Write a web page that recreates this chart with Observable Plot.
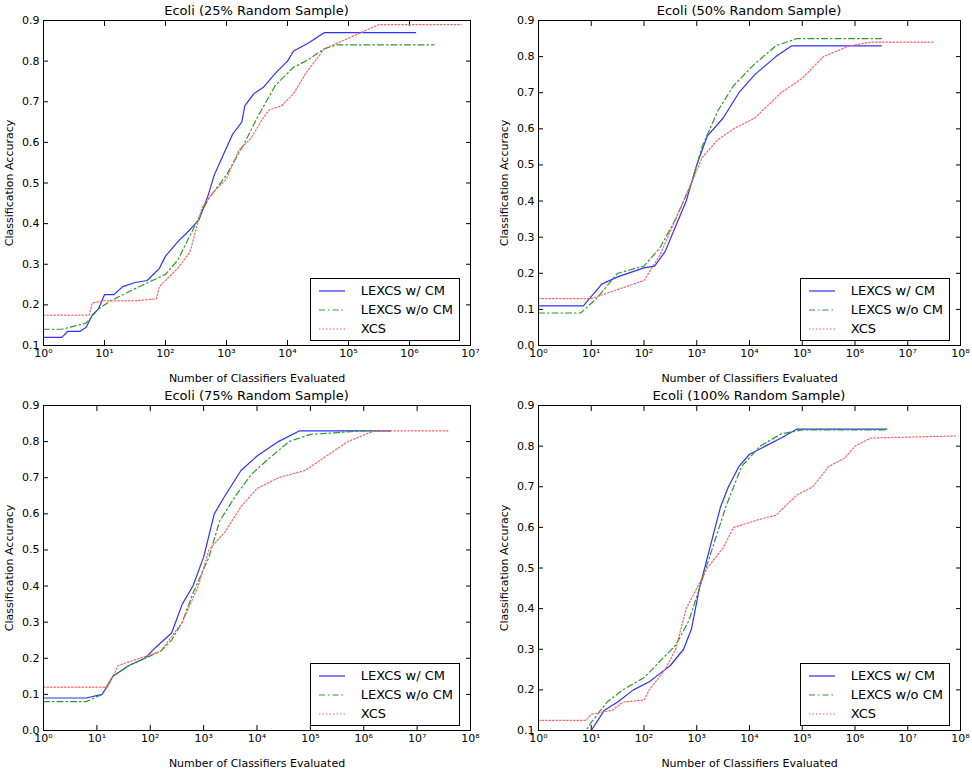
<!DOCTYPE html>
<html>
<head>
<meta charset="utf-8">
<script src="https://cdn.jsdelivr.net/npm/d3@7"></script>
<script src="https://cdn.jsdelivr.net/npm/@observablehq/plot@0.6"></script>
<style>
  body { margin: 0; background: #fff; font-family: "DejaVu Sans", sans-serif; }
  #grid { display: grid; grid-template-columns: 486px 486px; grid-template-rows: 385px 385px; width: 972px; }
  .panel { position: relative; }
  .panel svg { overflow: visible; }
  .title { position: absolute; top: 3px; width: 100%; font-size: 13px; }
  .legend { position: absolute; border: 1px solid #000; background: #fff; font-size: 13px; padding: 2px 6px; }
  .legend div { display: flex; align-items: center; height: 19px; }
  .legend svg { margin-right: 14px; }
</style>
</head>
<body>
<div id="grid"></div>
<script>
// exponents (log10 of classifiers evaluated) and accuracy
const titles = ["Ecoli (25% Random Sample)", "Ecoli (50% Random Sample)", "Ecoli (75% Random Sample)", "Ecoli (100% Random Sample)"]
const series = ["LEXCS w/ CM", "LEXCS w/o CM", "XCS"]

const p25cmX = [0,0.3,0.4,0.6,0.7,0.8,0.9,1.0,1.15,1.3,1.5,1.7,1.9,2.0,2.2,2.4,2.55,2.7,2.8,2.95,3.1,3.25,3.3,3.45,3.6,3.8,4.0,4.1,4.35,4.6,6.1]
const p25cmY = [0.12,0.12,0.135,0.135,0.145,0.175,0.19,0.225,0.225,0.245,0.255,0.26,0.29,0.32,0.355,0.385,0.41,0.47,0.52,0.57,0.62,0.65,0.69,0.72,0.735,0.77,0.8,0.825,0.845,0.87,0.87]
const p25noX = [0,0.3,0.7,0.9,1.1,1.5,2.0,2.2,2.5,2.7,3.0,3.3,3.5,3.8,4.1,4.3,4.6,4.8,6.4]
const p25noY = [0.14,0.14,0.155,0.19,0.21,0.24,0.275,0.31,0.4,0.46,0.52,0.6,0.66,0.74,0.785,0.8,0.83,0.84,0.84]
const p25xcsX = [0,0.75,0.8,1.0,1.5,1.85,1.9,2.0,2.2,2.4,2.6,2.8,3.0,3.2,3.4,3.6,3.7,3.9,4.1,4.3,4.6,4.9,5.2,5.5,6.85]
const p25xcsY = [0.175,0.175,0.205,0.21,0.21,0.215,0.245,0.26,0.29,0.33,0.44,0.48,0.51,0.58,0.61,0.66,0.68,0.69,0.72,0.77,0.83,0.85,0.87,0.89,0.89]

const p50cmX = [0,0.85,1.2,1.5,2.0,2.2,2.4,2.6,2.8,3.0,3.2,3.5,3.8,4.1,4.5,4.8,6.5]
const p50cmY = [0.11,0.11,0.17,0.19,0.215,0.22,0.26,0.33,0.4,0.5,0.58,0.63,0.7,0.75,0.8,0.83,0.83]
const p50noX = [0,0.8,1.1,1.5,2.0,2.3,2.6,2.9,3.1,3.4,3.7,4.1,4.5,4.9,6.5]
const p50noY = [0.09,0.09,0.13,0.2,0.22,0.27,0.35,0.45,0.55,0.65,0.72,0.78,0.83,0.85,0.85]
const p50xcsX = [0,1.0,1.2,1.6,2.0,2.3,2.6,2.9,3.1,3.4,3.7,4.1,4.6,5.0,5.4,5.9,6.3,7.5]
const p50xcsY = [0.13,0.13,0.14,0.16,0.18,0.25,0.35,0.45,0.52,0.57,0.6,0.63,0.7,0.74,0.8,0.83,0.84,0.84]

const p75cmX = [0,0.8,1.1,1.3,1.6,1.9,2.1,2.4,2.6,2.8,3.0,3.2,3.4,3.7,4.0,4.4,4.8,6.5]
const p75cmY = [0.09,0.09,0.1,0.15,0.18,0.2,0.23,0.27,0.35,0.4,0.48,0.6,0.65,0.72,0.76,0.8,0.83,0.83]
const p75noX = [0,0.8,1.1,1.3,1.6,1.9,2.2,2.4,2.6,2.8,3.1,3.3,3.6,3.9,4.2,4.6,5.0,6.0,6.5]
const p75noY = [0.08,0.08,0.1,0.15,0.18,0.2,0.22,0.25,0.3,0.38,0.48,0.58,0.65,0.71,0.75,0.8,0.82,0.83,0.83]
const p75xcsX = [0,1.2,1.4,1.8,2.2,2.6,2.9,3.1,3.4,3.7,4.0,4.4,4.9,5.3,5.7,6.2,7.6]
const p75xcsY = [0.12,0.12,0.18,0.2,0.22,0.3,0.4,0.5,0.55,0.62,0.67,0.7,0.72,0.76,0.8,0.83,0.83]

const p100cmX = [0,1.0,1.1,1.25,1.5,1.8,2.1,2.3,2.5,2.75,2.9,3.05,3.25,3.45,3.6,3.8,4.0,4.3,4.6,4.9,6.6]
const p100cmY = [0.1,0.1,0.12,0.15,0.17,0.2,0.22,0.24,0.26,0.3,0.35,0.45,0.55,0.65,0.7,0.75,0.78,0.8,0.82,0.842,0.842]
const p100noX = [0,0.9,1.0,1.3,1.6,2.0,2.3,2.6,2.85,3.05,3.3,3.55,3.85,4.2,4.6,5.0,6.6]
const p100noY = [0.1,0.1,0.12,0.17,0.2,0.23,0.27,0.31,0.37,0.45,0.55,0.65,0.75,0.8,0.83,0.84,0.84]
const p100xcsX = [0,0.9,1.0,1.4,1.6,2.0,2.1,2.4,2.6,2.8,3.2,3.5,3.7,4.2,4.5,4.9,5.2,5.5,5.8,6.0,6.3,7.9]
const p100xcsY = [0.125,0.125,0.14,0.15,0.17,0.175,0.2,0.25,0.3,0.4,0.5,0.55,0.6,0.62,0.63,0.68,0.7,0.75,0.77,0.8,0.82,0.825]

const panels = [
  {x: [p25cmX, p25noX, p25xcsX], y: [p25cmY, p25noY, p25xcsY], xmax: 7, ymin: 0.1},
  {x: [p50cmX, p50noX, p50xcsX], y: [p50cmY, p50noY, p50xcsY], xmax: 8, ymin: 0},
  {x: [p75cmX, p75noX, p75xcsX], y: [p75cmY, p75noY, p75xcsY], xmax: 8, ymin: 0},
  {x: [p100cmX, p100noX, p100xcsX], y: [p100cmY, p100noY, p100xcsY], xmax: 8, ymin: 0.1}
]

const colors = ["#3030ff", "#2a9a2a", "#ff6060"]
const dashes = [null, "6,3,1.5,3", "1.5,2"]
const sup = "⁰¹²³⁴⁵⁶⁷⁸⁹"

panels.forEach((p, i) => {
  const left = i % 2 == 0
  const mL = left ? 43 : 52, mR = left ? 16 : 12
  const data = []
  p.x.forEach((xs, s) => xs.forEach((e, k) => data.push({n: 10 ** e, acc: p.y[s][k], series: series[s]})))
  const decades = d3.range(0, p.xmax + 1).map(e => 10 ** e)
  const yt = d3.range(Math.round(p.ymin * 10), 10).map(v => v / 10)
  const div = d3.select("#grid").append("div").attr("class", "panel")
  div.append("div").attr("class", "title")
    .style("left", mL + "px").style("width", (486 - mL - mR) + "px").style("text-align", "center")
    .text(titles[i])
  const chart = Plot.plot({
    width: 486, height: 385,
    marginTop: 20, marginBottom: 40, marginLeft: mL, marginRight: mR,
    style: {fontSize: "12px", fontFamily: "DejaVu Sans"},
    x: {type: "log", domain: [1, 10 ** p.xmax]},
    y: {domain: [p.ymin, 0.9]},
    marks: [
      Plot.axisX({ticks: decades, tickSize: -5, tickPadding: 9, tickFormat: d => "10" + sup[Math.round(Math.log10(d))],
        label: "Number of Classifiers Evaluated", labelAnchor: "center", labelArrow: "none", labelOffset: 36, fontSize: 11}),
      Plot.axisX({ticks: decades, anchor: "top", tickSize: -5, tickFormat: () => "", label: null}),
      Plot.axisY({ticks: yt, tickSize: -5, tickPadding: 9, tickFormat: d3.format(".1f"),
        label: "Classification Accuracy", labelAnchor: "center", labelArrow: "none", labelOffset: 38, fontSize: 11}),
      Plot.axisY({ticks: yt, anchor: "right", tickSize: -5, tickFormat: () => "", label: null}),
      ...series.map((s, k) => Plot.line(data.filter(d => d.series == s), {
        x: "n", y: "acc", stroke: colors[k], strokeWidth: 1.2, strokeDasharray: dashes[k]
      })),
      Plot.frame({stroke: "#000"})
    ]
  })
  div.append(() => chart)
  const lg = div.append("div").attr("class", "legend")
    .style("right", (mR + 10) + "px").style("top", "278px")
  series.forEach((s, k) => {
    const row = lg.append("div")
    const sv = row.append("svg").attr("width", 30).attr("height", 6)
    sv.append("line").attr("x1", 2).attr("x2", 28).attr("y1", 3).attr("y2", 3)
      .attr("stroke", colors[k]).attr("stroke-width", 1.2).attr("stroke-dasharray", dashes[k])
    row.append("span").text(s)
  })
})
</script>
</body>
</html>
